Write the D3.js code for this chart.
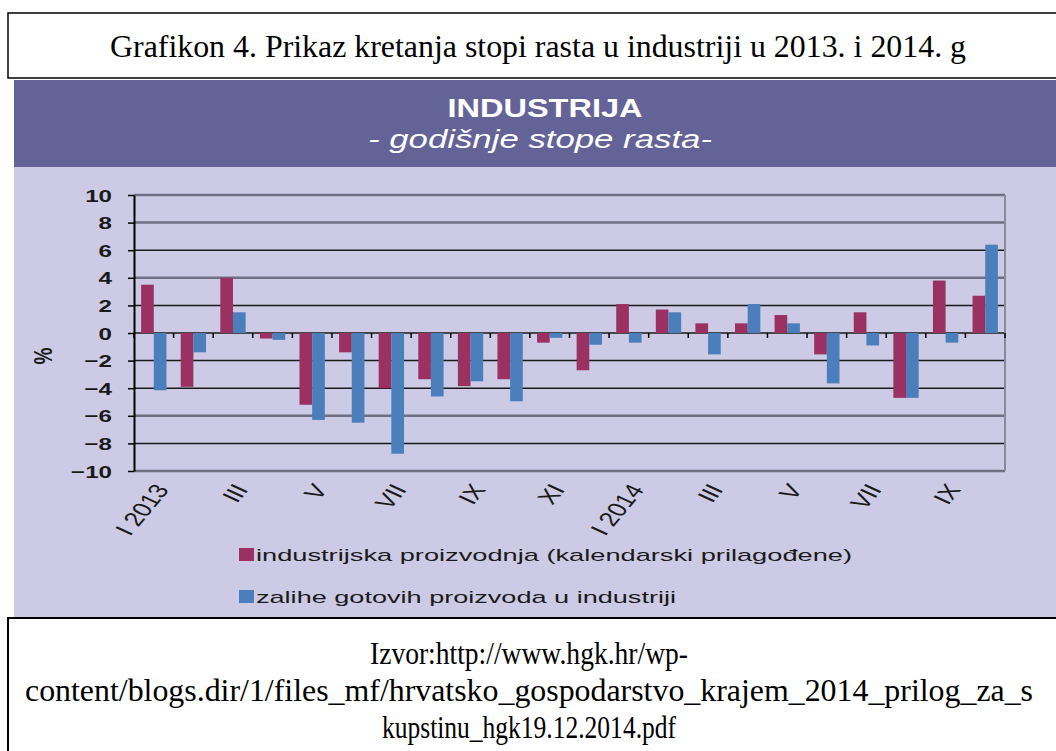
<!DOCTYPE html>
<html>
<head>
<meta charset="utf-8">
<script src="https://cdn.jsdelivr.net/npm/d3@7"></script>
<style>
  body { margin: 0; background: #fff; }
  svg { display: block; }
</style>
</head>
<body>
<div id="chart"></div>
<script>
// Industrija - godisnje stope rasta, I 2013 - X 2014

const months = ["I 2013", "II", "III", "IV", "V", "VI", "VII", "VIII", "IX", "X", "XI", "XII",
                "I 2014", "II", "III", "IV", "V", "VI", "VII", "VIII", "IX", "X"];
const industrija = [3.5, -3.9, 4.0, -0.4, -5.2, -1.4, -4.0, -3.35, -3.85, -3.35, -0.7, -2.7,
                    2.1, 1.7, 0.7, 0.7, 1.3, -1.55, 1.5, -4.7, 3.8, 2.7];
const zalihe = [-4.15, -1.4, 1.5, -0.5, -6.3, -6.5, -8.75, -4.6, -3.5, -4.95, -0.35, -0.85,
                -0.7, 1.5, -1.55, 2.1, 0.7, -3.65, -0.9, -4.7, -0.7, 6.4];
const yTicks = [-10, -8, -6, -4, -2, 0, 2, 4, 6, 8, 10];
const seriesNames = ["industrijska proizvodnja (kalendarski prilagođene)",
                     "zalihe gotovih proizvoda u industriji"];
const sourceLines = ["Izvor:http://www.hgk.hr/wp-",
                     "content/blogs.dir/1/files_mf/hrvatsko_gospodarstvo_krajem_2014_prilog_za_s",
                     "kupstinu_hgk19.12.2014.pdf"];

const colors = ["#9b3163", "#4b7fbc"];
const W = 1056, H = 751;

const svg = d3.select("#chart").append("svg")
    .attr("width", W)
    .attr("height", H);

// title box
svg.append("rect")
    .attr("x", 8).attr("y", 13).attr("width", 1070).attr("height", 65)
    .attr("fill", "#fff").attr("stroke", "#000").attr("stroke-width", 1.5);

svg.append("text")
    .attr("x", 538).attr("y", 57)
    .attr("text-anchor", "middle")
    .attr("font-family", "Liberation Serif, Times New Roman, serif")
    .attr("font-size", 32)
    .attr("textLength", 856).attr("lengthAdjust", "spacingAndGlyphs")
    .text("Grafikon 4. Prikaz kretanja stopi rasta u industriji u 2013. i 2014. g");

// chart picture background
svg.append("rect")
    .attr("x", 14).attr("y", 80).attr("width", W - 14).attr("height", 87)
    .attr("fill", "#646397");
svg.append("rect")
    .attr("x", 14).attr("y", 167).attr("width", W - 14).attr("height", 450)
    .attr("fill", "#cccae5");

svg.append("text")
    .attr("x", 545).attr("y", 117)
    .attr("text-anchor", "middle")
    .attr("font-family", "Liberation Sans, Arial, sans-serif")
    .attr("font-weight", "bold")
    .attr("font-size", 26)
    .attr("fill", "#fff")
    .attr("textLength", 195).attr("lengthAdjust", "spacingAndGlyphs")
    .text("INDUSTRIJA");

svg.append("text")
    .attr("x", 540).attr("y", 148)
    .attr("text-anchor", "middle")
    .attr("font-family", "Liberation Sans, Arial, sans-serif")
    .attr("font-style", "italic")
    .attr("font-size", 25)
    .attr("fill", "#fff")
    .attr("textLength", 344).attr("lengthAdjust", "spacingAndGlyphs")
    .text("- godišnje stope rasta-");

// scales
const plotLeft = 134, plotRight = 1005, plotTop = 195, plotBottom = 471;

const x = d3.scaleBand()
    .domain(d3.range(months.length))
    .range([plotLeft, plotRight])
    .padding(0);

const xs = d3.scaleBand()
    .domain([0, 1])
    .range([x.bandwidth() * 0.18, x.bandwidth() * 0.82]);

const y = d3.scaleLinear()
    .domain([-10, 10])
    .range([plotBottom, plotTop]);

// gridlines
const greyLines = [10, 8, 4, -6, -10];
svg.append("g")
    .selectAll("line")
    .data(yTicks)
    .join("line")
    .attr("x1", plotLeft).attr("x2", plotRight)
    .attr("y1", d => y(d)).attr("y2", d => y(d))
    .attr("stroke", d => greyLines.includes(d) ? "#6f6e82" : "#1a1a1a")
    .attr("stroke-width", d => greyLines.includes(d) ? 2.5 : 1.5);

svg.append("line")
    .attr("x1", plotRight).attr("x2", plotRight)
    .attr("y1", plotTop).attr("y2", plotBottom)
    .attr("stroke", "#8a8a96").attr("stroke-width", 2);

// bars
const series = [industrija, zalihe];
series.forEach((vals, s) => {
    svg.append("g")
        .selectAll("rect")
        .data(vals)
        .join("rect")
        .attr("x", (d, i) => x(i) + xs(s))
        .attr("width", xs.bandwidth())
        .attr("y", d => y(Math.max(0, d)))
        .attr("height", d => Math.abs(y(d) - y(0)))
        .attr("fill", colors[s]);
});

// category axis on the zero line
const xAxis = svg.append("g")
    .attr("transform", `translate(0,${y(0)})`);
xAxis.selectAll("line")
    .data(d3.range(months.length + 1))
    .join("line")
    .attr("x1", i => plotLeft + i * x.step()).attr("x2", i => plotLeft + i * x.step())
    .attr("y1", 0).attr("y2", 5)
    .attr("stroke", "#000").attr("stroke-width", 1.5);

// value axis
const yAxis = svg.append("g")
    .attr("transform", `translate(${plotLeft},0)`)
    .call(d3.axisLeft(y).tickValues(yTicks).tickSize(6).tickSizeOuter(0));
yAxis.select(".domain").attr("stroke", "#000").attr("stroke-width", 2);
yAxis.selectAll(".tick line").attr("stroke", "#000").attr("stroke-width", 1.5);
yAxis.selectAll(".tick text")
    .attr("x", 0).attr("dy", "0.36em")
    .attr("transform", "translate(-22,0) scale(1.42,1)")
    .attr("text-anchor", "end")
    .attr("font-family", "Liberation Sans, Arial, sans-serif")
    .attr("font-weight", "bold")
    .attr("font-size", 17)
    .attr("fill", "#1a1a1a");

svg.append("text")
    .attr("transform", "translate(43,356) scale(1.4,1) rotate(-90)")
    .attr("text-anchor", "middle")
    .attr("dy", "0.35em")
    .attr("font-family", "Liberation Sans, Arial, sans-serif")
    .attr("font-weight", "bold")
    .attr("font-size", 19)
    .attr("fill", "#1a1a1a")
    .text("%");

// month labels, every second one
svg.append("g")
    .selectAll("text")
    .data(months.map((m, i) => ({ m, i })).filter(d => d.i % 2 === 0))
    .join("text")
    .attr("transform", d => `translate(${x(d.i) + x.bandwidth() / 2 + 8},${486}) scale(1.35,1) rotate(-58)`)
    .attr("text-anchor", "end")
    .attr("dy", "0.35em")
    .attr("font-family", "Liberation Sans, Arial, sans-serif")
    .attr("font-size", 20)
    .attr("fill", "#1a1a1a")
    .text(d => d.m);

// legend
const legendWidths = [596, 420];
const legend = svg.append("g");
seriesNames.forEach((name, s) => {
    const ly = 555 + s * 42;
    legend.append("rect")
        .attr("x", 239).attr("y", ly - 7).attr("width", 15).attr("height", 13)
        .attr("fill", colors[s]);
    legend.append("text")
        .attr("x", 256).attr("y", ly + 6)
        .attr("font-family", "Liberation Sans, Arial, sans-serif")
        .attr("font-size", 17)
        .attr("fill", "#1a1a1a")
        .attr("textLength", legendWidths[s]).attr("lengthAdjust", "spacingAndGlyphs")
        .text(name);
});

// source box
svg.append("rect")
    .attr("x", 8).attr("y", 618).attr("width", 1070).attr("height", 160)
    .attr("fill", "#fff").attr("stroke", "#000").attr("stroke-width", 2);

const sourceWidths = [318, 1008, 294];
sourceLines.forEach((line, i) => {
    svg.append("text")
        .attr("x", 529).attr("y", 664 + i * 37)
        .attr("text-anchor", "middle")
        .attr("font-family", "Liberation Serif, Times New Roman, serif")
        .attr("font-size", 32)
        .attr("textLength", sourceWidths[i]).attr("lengthAdjust", "spacingAndGlyphs")
        .text(line);
});
</script>
</body>
</html>
